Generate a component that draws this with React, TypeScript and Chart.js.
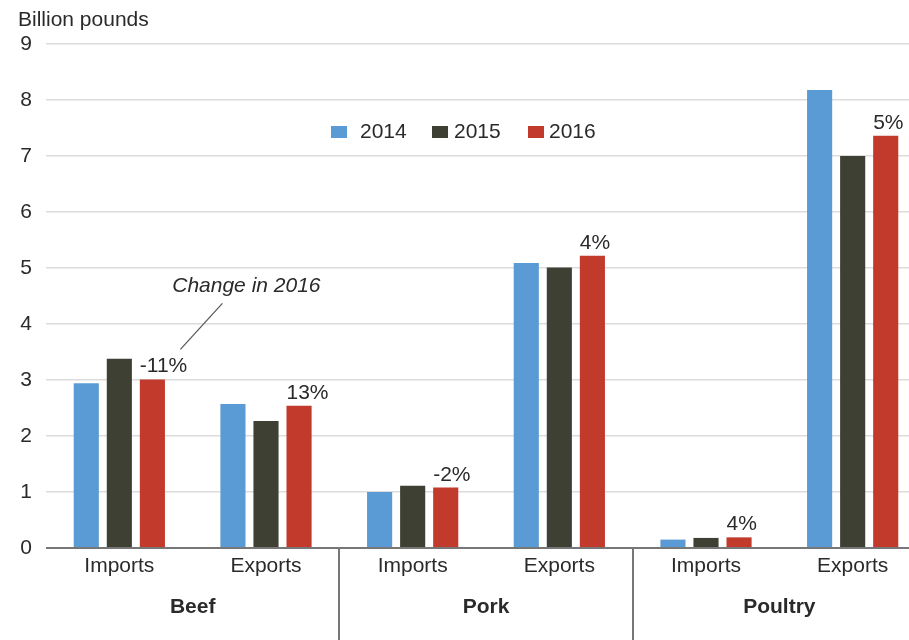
import { useEffect, useRef } from "react";
import { Chart, registerables } from "chart.js";

Chart.register(...registerables);

const categories = ["Imports", "Exports", "Imports", "Exports", "Imports", "Exports"];
const groups = ["Beef", "Pork", "Poultry"];
const years = ["2014", "2015", "2016"];
const values2014 = [2.94, 2.57, 1.0, 5.09, 0.15, 8.18];
const values2015 = [3.38, 2.27, 1.11, 5.01, 0.18, 7.0];
const values2016 = [3.01, 2.54, 1.08, 5.22, 0.19, 7.36];
const changeLabels = ["-11%", "13%", "-2%", "4%", "4%", "5%"];
const yTickValues = [0, 1, 2, 3, 4, 5, 6, 7, 8, 9];
const colors = ["#5b9bd5", "#3d4033", "#c23a2b"];
const yAxisTitle = "Billion pounds";
const noteText = "Change in 2016";

const FONT = "'Liberation Sans', Arial, Helvetica, sans-serif";
const TEXT = "#2a2a2a";

const overlay = {
  id: "overlay",
  afterDraw(chart: any) {
    const ctx = chart.ctx;
    const area = chart.chartArea;
    const xs = chart.scales.x;
    const ys = chart.scales.y;
    ctx.save();

    // zero axis line
    const y0 = ys.getPixelForValue(0);
    ctx.strokeStyle = "#777";
    ctx.lineWidth = 2;
    ctx.beginPath();
    ctx.moveTo(area.left, y0);
    ctx.lineTo(area.right, y0);
    ctx.stroke();

    // separators between groups
    ctx.lineWidth = 2;
    ctx.strokeStyle = "#777";
    for (let g = 1; g < groups.length; g++) {
      const sx = Math.round((xs.getPixelForValue(g * 2 - 1) + xs.getPixelForValue(g * 2)) / 2);
      ctx.beginPath();
      ctx.moveTo(sx, y0);
      ctx.lineTo(sx, chart.height);
      ctx.stroke();
    }

    // category labels
    ctx.fillStyle = TEXT;
    ctx.font = `21px ${FONT}`;
    ctx.textAlign = "center";
    ctx.textBaseline = "middle";
    categories.forEach((c, i) => {
      ctx.fillText(c, xs.getPixelForValue(i), y0 + 18);
    });

    // group labels
    ctx.font = `bold 21px ${FONT}`;
    groups.forEach((g, i) => {
      const gx = (xs.getPixelForValue(i * 2) + xs.getPixelForValue(i * 2 + 1)) / 2;
      ctx.fillText(g, gx, y0 + 59);
    });

    // change labels
    const meta = chart.getDatasetMeta(2);
    ctx.font = `21px ${FONT}`;
    ctx.textAlign = "left";
    ctx.textBaseline = "alphabetic";
    changeLabels.forEach((t, i) => {
      const el = meta.data[i];
      ctx.fillText(t, el.x - el.width / 2, el.y - 7);
    });

    // note with leader line
    const ref = meta.data[0];
    ctx.strokeStyle = "#555";
    ctx.lineWidth = 1.2;
    ctx.beginPath();
    ctx.moveTo(ref.x + 70, ref.y - 76);
    ctx.lineTo(ref.x + 28, ref.y - 30);
    ctx.stroke();
    ctx.font = `italic 21px ${FONT}`;
    ctx.textAlign = "center";
    ctx.textBaseline = "middle";
    ctx.fillText(noteText, ref.x + 94, ref.y - 93);

    // y-axis title
    ctx.font = `21px ${FONT}`;
    ctx.textAlign = "left";
    ctx.fillText(yAxisTitle, 18, 20);

    // legend
    const legendX = [331, 432, 528];
    const legendTextX = [360, 454, 549];
    const ly = 132;
    ctx.font = `21px ${FONT}`;
    years.forEach((yr, i) => {
      ctx.fillStyle = colors[i];
      ctx.fillRect(legendX[i], ly - 6, 16, 12);
      ctx.fillStyle = TEXT;
      ctx.fillText(yr, legendTextX[i], ly);
    });

    ctx.restore();
  },
};

export default function App() {
  const ref = useRef<HTMLCanvasElement | null>(null);

  useEffect(() => {
    if (!ref.current) return;
    const series = [values2014, values2015, values2016];
    const chart = new Chart(ref.current, {
      type: "bar",
      data: {
        labels: categories,
        datasets: years.map((yr, i) => ({
          label: yr,
          data: series[i],
          backgroundColor: colors[i],
          categoryPercentage: 0.676,
          barPercentage: 0.76,
        })),
      },
      options: {
        responsive: false,
        animation: false,
        layout: { padding: { top: 44, bottom: 92, left: 1, right: 4 } },
        plugins: { legend: { display: false }, tooltip: { enabled: false } },
        scales: {
          x: {
            display: false,
            grid: { display: false },
          },
          y: {
            min: 0,
            max: 9,
            afterBuildTicks: (scale: any) => {
              scale.ticks = yTickValues.map((v) => ({ value: v }));
            },
            afterFit: (scale: any) => {
              scale.width = 45;
            },
            border: { display: false },
            grid: { color: "#dcdcdc", lineWidth: 1.5, drawTicks: false },
            ticks: {
              color: TEXT,
              padding: 14,
              font: { family: FONT, size: 21 },
            },
          },
        },
      },
      plugins: [overlay],
    });
    return () => chart.destroy();
  }, []);

  return (
    <div
      style={{
        position: "fixed",
        left: 0,
        top: 0,
        width: 909,
        height: 640,
        overflow: "hidden",
        background: "#fff",
      }}
    >
      <canvas ref={ref} width={930} height={640} style={{ display: "block" }} />
    </div>
  );
}
